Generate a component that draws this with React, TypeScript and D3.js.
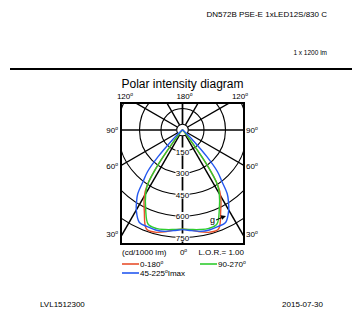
import React from 'react';
import * as d3 from 'd3';

// intensity curves, cd/1000 lm (symmetric planes)
const gammas = [0, 5, 10, 15, 20, 25, 30, 32.5, 35, 37.5, 40, 42.5, 45, 50, 60, 70, 80, 90];
const plane0180 = [692, 700, 722, 738, 735, 630, 532, 460, 300, 100, 35, 18, 10, 6, 3, 2, 1, 0];
const plane90270 = [692, 697, 705, 710, 700, 608, 513, 455, 300, 100, 35, 18, 10, 6, 3, 2, 1, 0];
const plane45225 = [695, 705, 718, 722, 718, 712, 645, 597, 545, 450, 380, 250, 120, 30, 6, 3, 1, 0];

const rings = [150, 300, 450, 600, 750, 900];
const ringLabels = ['150', '300', '450', '600', '750'];
const gridAngles = [0, 30, 60, 90, 120, 150, 180];
const sideLabels = ['30', '60', '90'];

const series = [
  { name: '0-180', values: plane0180, color: '#e8502c' },
  { name: '90-270', values: plane90270, color: '#2fcc2f' },
  { name: '45-225', values: plane45225, color: '#2458f0' },
];

const FONT = '"Liberation Sans", Arial, Helvetica, sans-serif';

const box = { left: 121, right: 244, top: 103, bottom: 244 };
const cx = (box.left + box.right) / 2;
const cy = 130;

const r = d3.scaleLinear().domain([0, 750]).range([0, 107.5]);
const rad = (deg: number) => (deg * Math.PI) / 180;

const Deg = ({ x, y, label, anchor }: { x: number; y: number; label: string; anchor: string }) => (
  <text x={x} y={y} fontSize={8} textAnchor={anchor} fontFamily={FONT}>
    {label}
    <tspan fontSize={5} dy={-3}>o</tspan>
  </text>
);

export default function App() {
  const halfW = (box.right - box.left) / 2;

  const radial = d3
    .lineRadial<[number, number]>()
    .angle((d) => d[0])
    .radius((d) => r(d[1]))
    .curve(d3.curveCatmullRom.alpha(0.5));

  const curvePath = (values: number[]) => {
    const left: [number, number][] = gammas
      .map((g, i) => [Math.PI + rad(g), values[i]] as [number, number])
      .reverse();
    const right: [number, number][] = gammas
      .slice(1)
      .map((g, i) => [Math.PI - rad(g), values[i + 1]] as [number, number]);
    return radial([...left, ...right]) || '';
  };

  return (
    <svg width={352} height={317} style={{ position: 'absolute', left: 0, top: 0, background: '#fff' }}>
      <defs>
        <clipPath id="boxclip">
          <rect x={box.left} y={box.top} width={box.right - box.left} height={box.bottom - box.top} />
        </clipPath>
      </defs>

      <text x={327} y={17} fontSize={8} textAnchor="end" fontFamily={FONT}>DN572B PSE-E 1xLED12S/830 C</text>
      <text x={327} y={55} fontSize={6.5} textAnchor="end" fontFamily={FONT}>1 x 1200 lm</text>
      <line x1={10} x2={352} y1={69} y2={69} stroke="#000" strokeWidth={2} />

      <text x={cx} y={88} fontSize={12} textAnchor="middle" fontFamily={FONT}>Polar intensity diagram</text>

      <g clipPath="url(#boxclip)">
        {rings.map((v) => (
          <circle key={v} cx={cx} cy={cy} r={r(v)} fill="none" stroke="#000" strokeWidth={1.1} />
        ))}
        {gridAngles.map((a) =>
          [-1, 1].map((s) => (
            <line
              key={`${a}${s}`}
              x1={cx + s * 6 * Math.sin(rad(a))}
              y1={cy + 6 * Math.cos(rad(a))}
              x2={cx + s * 300 * Math.sin(rad(a))}
              y2={cy + 300 * Math.cos(rad(a))}
              stroke="#000"
              strokeWidth={1.4}
            />
          ))
        )}
        <circle cx={cx} cy={cy} r={5.8} fill="#fff" stroke="#000" strokeWidth={1.1} />
        {ringLabels.map((l, i) => (
          <g key={l}>
            <rect x={cx - 7} y={cy + r(rings[i]) - 4} width={14} height={8} fill="#fff" />
            <text x={cx} y={cy + r(rings[i]) + 3} fontSize={8} textAnchor="middle" fontFamily={FONT}>{l}</text>
          </g>
        ))}
        <g transform={`translate(${cx},${cy})`}>
          {series.map((s) => (
            <path key={s.name} d={curvePath(s.values)} fill="none" stroke={s.color} strokeWidth={1.4} />
          ))}
        </g>
      </g>

      <rect x={box.left} y={box.top} width={box.right - box.left} height={box.bottom - box.top} fill="none" stroke="#000" strokeWidth={2} />

      {sideLabels.map((a) => {
        const g = +a;
        const y = Math.min(cy + halfW / Math.tan(rad(g)), 234);
        return (
          <g key={a}>
            <Deg x={box.left - 3} y={y + 3} label={a} anchor="end" />
            <Deg x={box.right + 2} y={y + 3} label={a} anchor="start" />
          </g>
        );
      })}
      <Deg x={box.left + 4} y={99} label="120" anchor="middle" />
      <Deg x={cx + 2} y={99} label="180" anchor="middle" />
      <Deg x={box.right - 4} y={99} label="120" anchor="middle" />

      <text x={122} y={255} fontSize={8} fontFamily={FONT}>(cd/1000 lm)</text>
      <Deg x={cx + 1} y={255} label="0" anchor="middle" />
      <text x={244} y={255} fontSize={8} textAnchor="end" fontFamily={FONT}>L.O.R.= 1.00</text>

      <g fontFamily={FONT} fontSize={8}>
        <line x1={122} x2={139} y1={264} y2={264} stroke={series[0].color} strokeWidth={1.6} />
        <text x={140} y={267}>0-180<tspan fontSize={5} dy={-3}>o</tspan></text>
        <line x1={200} x2={217} y1={264} y2={264} stroke={series[1].color} strokeWidth={1.6} />
        <text x={218} y={267}>90-270<tspan fontSize={5} dy={-3}>o</tspan></text>
        <line x1={122} x2={139} y1={273} y2={273} stroke={series[2].color} strokeWidth={1.6} />
        <text x={140} y={276}>45-225<tspan fontSize={5} dy={-3}>o</tspan><tspan dy={3}>Imax</tspan></text>
      </g>

      <text x={210} y={223} fontSize={9} fontFamily={FONT}>g</text>
      <line x1={216} y1={220} x2={222} y2={217.5} stroke="#000" strokeWidth={1} />
      <path d="M226,216 L220.5,215.3 L222.2,219.8 Z" fill="#000" />

      <text x={40} y={307} fontSize={8} fontFamily={FONT}>LVL1512300</text>
      <text x={323} y={307} fontSize={8} textAnchor="end" fontFamily={FONT}>2015-07-30</text>
    </svg>
  );
}
